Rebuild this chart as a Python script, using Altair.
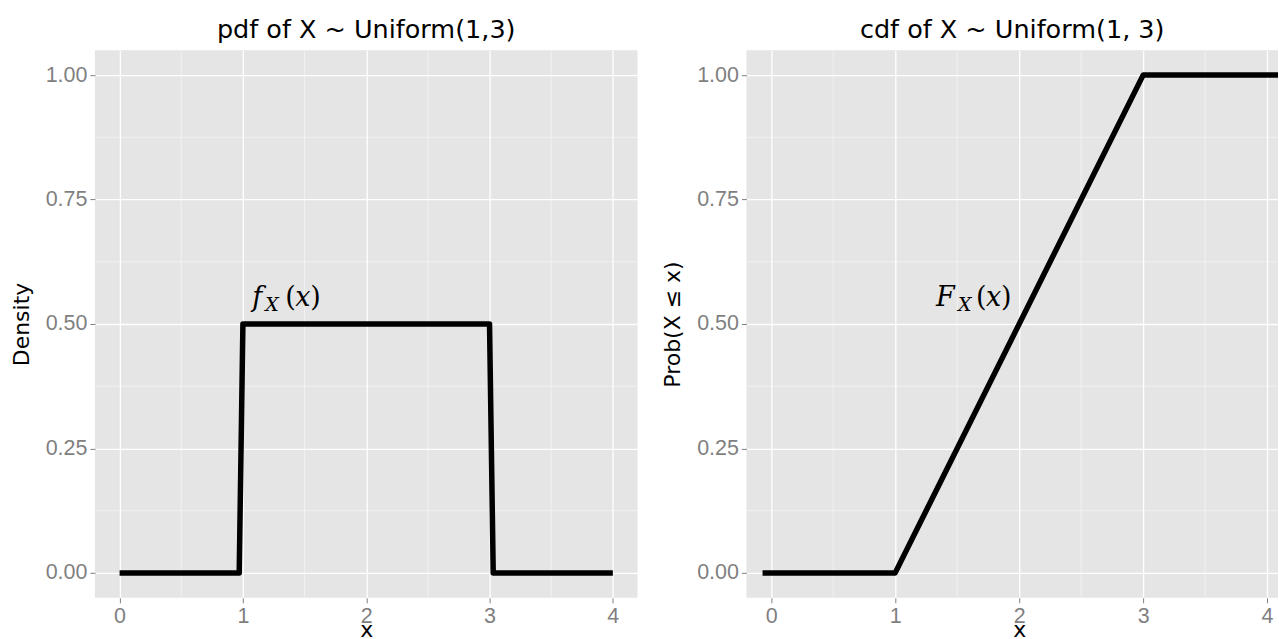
import altair as alt
import pandas as pd

# ---- data ----
pdf_x = [0.0, 0.97, 1.0, 3.0, 3.03, 4.0]
pdf_y = [0.0, 0.0, 0.5, 0.5, 0.0, 0.0]

cdf_x = [-0.07, 1.0, 3.0, 4.1]
cdf_y = [0.0, 0.0, 1.0, 1.0]

x_ticks = [0, 1, 2, 3, 4]
y_ticks = [0.0, 0.25, 0.5, 0.75, 1.0]
x_minor = [0.5, 1.5, 2.5, 3.5]
y_minor = [0.125, 0.375, 0.625, 0.875]

pdf_label_pos = [1.36, 0.55]
cdf_label_pos = [1.62, 0.55]

pdf_title = "pdf of X ~ Uniform(1,3)"
cdf_title = "cdf of X ~ Uniform(1, 3)"

BG = "#e5e5e5"
GREY = "#7f7f7f"
SANS = "DejaVu Sans"
TICKFONT = "Liberation Sans"
SERIF = "DejaVu Serif"

H = 548


def make_panel(xs, ys, xdom, width, title, ytitle, label_pos, letter, letter_dx, x_title_x=None):
    df = pd.DataFrame({"x": xs, "y": ys})
    xscale = alt.Scale(domain=xdom, nice=False, zero=False)
    yscale = alt.Scale(domain=[-0.05, 1.05], nice=False, zero=False)
    xaxis_kw = dict(
        values=x_ticks, format="d", title="x", grid=True, gridColor="white", gridWidth=1.3,
        domain=False, tickSize=5, tickColor=GREY, tickWidth=1, labelColor=GREY,
        labelFont=TICKFONT, labelFontSize=21.5, labelPadding=3, titleFont=SANS,
        titleFontSize=22, titleFontWeight="normal", titleColor="black", titlePadding=-8,
        labelFlush=False,
    )
    if x_title_x is not None:
        xaxis_kw["titleX"] = x_title_x
    xaxis = alt.Axis(**xaxis_kw)
    yaxis = alt.Axis(
        values=y_ticks, format=".2f", title=ytitle, grid=True, gridColor="white", gridWidth=1.3,
        domain=False, tickSize=5, tickColor=GREY, tickWidth=1, labelColor=GREY,
        labelFont=TICKFONT, labelFontSize=21.5, labelPadding=3, titleFont=SANS,
        titleFontSize=22, titleFontWeight="normal", titleColor="black", titlePadding=12,
        labelFlush=False,
    )
    xm = pd.DataFrame({"v": x_minor})
    ym = pd.DataFrame({"v": y_minor})
    minor_x = alt.Chart(xm).mark_rule(color="white", strokeWidth=0.6, opacity=0.8).encode(
        x=alt.X("v:Q", scale=xscale, axis=xaxis)
    )
    minor_y = alt.Chart(ym).mark_rule(color="white", strokeWidth=0.6, opacity=0.8).encode(
        y=alt.Y("v:Q", scale=yscale, axis=yaxis)
    )
    line = alt.Chart(df).mark_line(
        color="black", strokeWidth=5.5, strokeCap="butt", strokeJoin="round", clip=True
    ).encode(
        x=alt.X("x:Q", scale=xscale, axis=xaxis),
        y=alt.Y("y:Q", scale=yscale, axis=yaxis),
    )
    ann = pd.DataFrame({"x": [label_pos[0]], "y": [label_pos[1]]})
    base = alt.Chart(ann).encode(
        x=alt.X("x:Q", scale=xscale, axis=xaxis), y=alt.Y("y:Q", scale=yscale, axis=yaxis)
    )
    pieces = [
        (letter, letter_dx[0], 7, 27, "italic"),
        ("X", letter_dx[1], 12, 19, "italic"),
        ("(", letter_dx[2], 7, 27, "normal"),
        ("x", letter_dx[3], 7, 27, "italic"),
        (")", letter_dx[4], 7, 27, "normal"),
    ]
    texts = [
        base.mark_text(
            text=t, dx=dx, dy=dy, fontSize=fs, fontStyle=st, font=SERIF,
            align="left", baseline="alphabetic", color="black",
        )
        for (t, dx, dy, fs, st) in pieces
    ]
    return alt.layer(minor_x, minor_y, line, *texts).properties(
        width=width, height=H,
        title=alt.TitleParams(
            text=title, font=SANS, fontSize=25.5, fontWeight="normal", color="black",
            anchor="middle", baseline="alphabetic", offset=-14,
        ),
    )


left = make_panel(pdf_x, pdf_y, [-0.2, 4.2], 543, pdf_title, "Density",
                  pdf_label_pos, "f", [-35, -22, -2, 8, 23])
right = make_panel(cdf_x, cdf_y, [-0.2, 4.088], 532, cdf_title, "Prob(X ≤ x)",
                   cdf_label_pos, "F", [-36, -14, 4, 14, 29], x_title_x=273)

chart = alt.hconcat(left, right, spacing=109, bounds="flush").properties(
    padding={"left": 10, "top": 18, "right": 0, "bottom": 0},
    background="white",
).configure_view(fill=BG, strokeWidth=0)

chart.save("out.html", embed_options={"renderer": "svg", "actions": False})
